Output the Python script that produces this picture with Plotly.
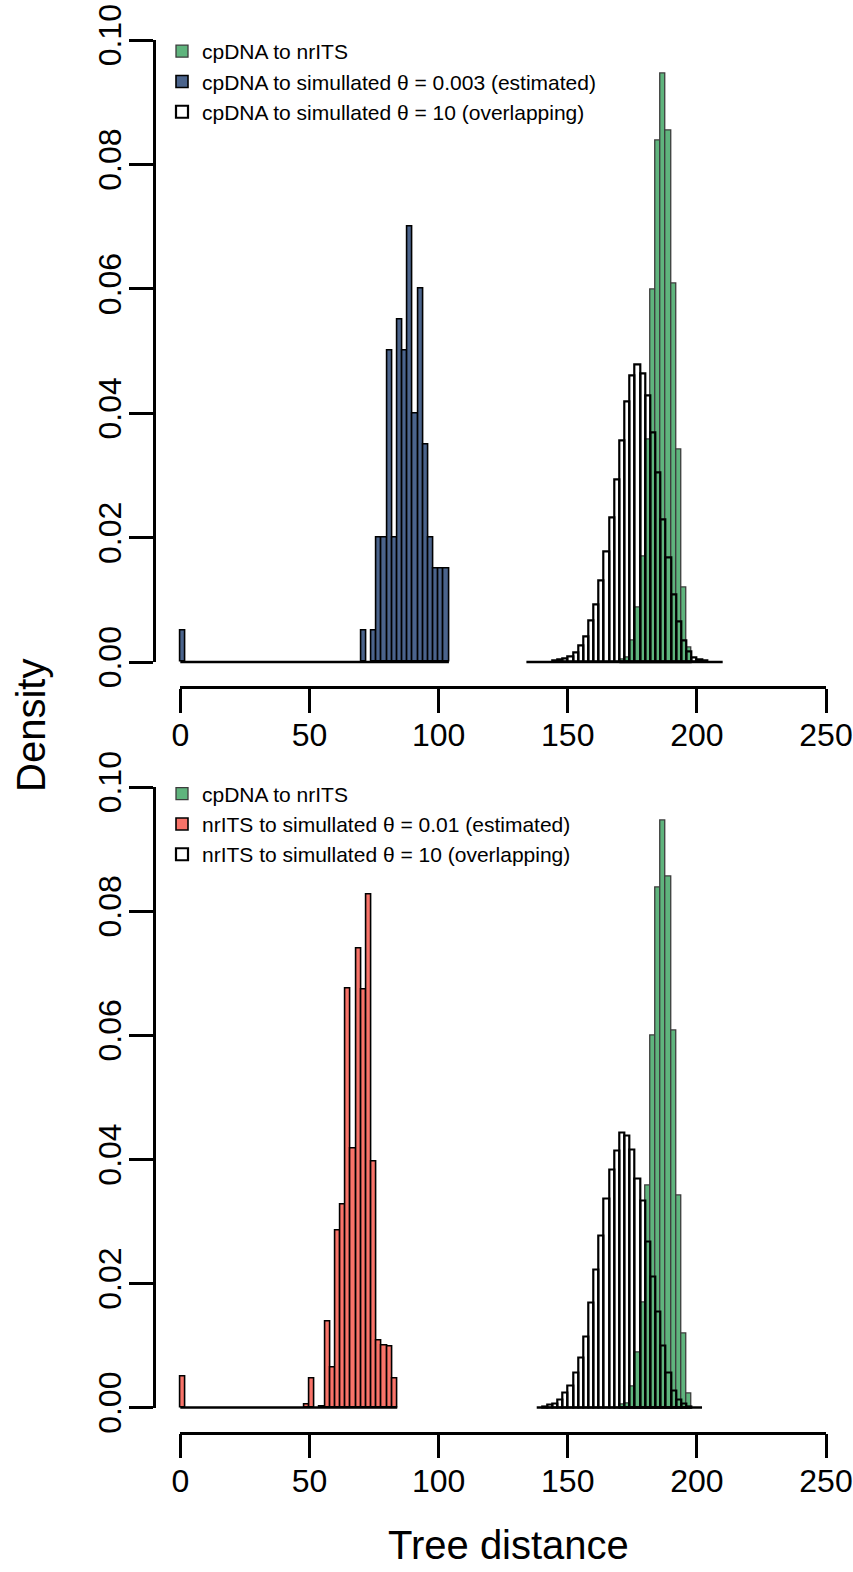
import plotly.graph_objects as go

# ---------------- data (densities, bin width 2) ----------------
BIN = 2

green_left = [170, 172, 174, 176, 178, 180, 182, 184, 186, 188, 190, 192, 194, 196]
green_density = [0.0004, 0.0007, 0.0034, 0.0088, 0.0169, 0.0358, 0.0599, 0.0838,
                 0.0946, 0.0855, 0.0608, 0.0342, 0.0119, 0.0023]
green_range = [170, 198]

blue_left = [0, 70, 74, 76, 78, 80, 82, 84, 86, 88, 90, 92, 94, 96, 98, 100, 102]
blue_density = [0.005, 0.005, 0.005, 0.02, 0.02, 0.05, 0.02, 0.055, 0.05, 0.07,
                0.04, 0.06, 0.035, 0.02, 0.015, 0.015, 0.015]
blue_range = [0, 104]

white1_left = [144, 146, 148, 150, 152, 154, 156, 158, 160, 162, 164, 166, 168, 170, 172,
               174, 176, 178, 180, 182, 184, 186, 188, 190, 192, 194, 196, 198, 200, 202]
white1_density = [0.0003, 0.0004, 0.0006, 0.0009, 0.0015, 0.0026, 0.0041, 0.0066, 0.0092,
                  0.0131, 0.0178, 0.0232, 0.0294, 0.0356, 0.0419, 0.0460, 0.0479, 0.0463,
                  0.0428, 0.0369, 0.0305, 0.0229, 0.0168, 0.0108, 0.0065, 0.0034, 0.0017,
                  0.0007, 0.0004, 0.0002]
white1_range = [134, 210]

red_left = [0, 48, 50, 54, 56, 58, 60, 62, 64, 66, 68, 70, 72, 74, 76, 78, 80, 82]
red_density = [0.005, 0.0004, 0.0047, 0.0002, 0.0138, 0.0065, 0.0285, 0.0327, 0.0675,
               0.0417, 0.0739, 0.0674, 0.0826, 0.0397, 0.0108, 0.0100, 0.0098, 0.0047]
red_range = [0, 84]

white2_left = [140, 142, 144, 146, 148, 150, 152, 154, 156, 158, 160, 162, 164, 166, 168,
               170, 172, 174, 176, 178, 180, 182, 184, 186, 188, 190, 192, 194, 196]
white2_density = [0.0001, 0.0004, 0.0007, 0.0013, 0.0024, 0.0035, 0.0056, 0.0081, 0.0115,
                  0.0169, 0.0222, 0.0277, 0.0336, 0.0384, 0.0414, 0.0443, 0.0438, 0.0416,
                  0.0369, 0.0334, 0.0267, 0.0211, 0.0154, 0.0100, 0.0056, 0.0027, 0.0012,
                  0.0007, 0.0002]
white2_range = [138, 202]

x_ticks = [0, 50, 100, 150, 200, 250]
y_ticks = [0.00, 0.02, 0.04, 0.06, 0.08, 0.10]

legend_top = ["cpDNA to nrITS",
              "cpDNA to simullated θ = 0.003 (estimated)",
              "cpDNA to simullated θ = 10 (overlapping)"]
legend_bottom = ["cpDNA to nrITS",
                 "nrITS to simullated θ = 0.01 (estimated)",
                 "nrITS to simullated θ = 10 (overlapping)"]

# ---------------- styles ----------------
GREEN = "#5FB47D"
BLUE = "#4B648C"
RED = "#F87369"
FONT = "Liberation Sans, Arial, Helvetica, sans-serif"

OFF = 0                      # page body margin is removed below (post_script)
W, H = 853, 1572
X0_PX, X250_PX = 180.3, 826.0          # window px of x=0 and x=250
PPU_X = (X250_PX - X0_PX) / 250.0
PANELS = {"top": (662.0, 40.0), "bottom": (1407.5, 787.0)}  # window px of y=0 and y=0.1
Y_AXIS_PX = 153.5
X_AXIS_PX = {"top": 687.0, "bottom": 1432.5}


def fx(p):
    return (p - OFF) / W


def fy(p):
    return 1 - (p - OFF) / H


def centers(lefts):
    return [l + BIN / 2 for l in lefts]


fig = go.Figure()


def add_panel(xa, ya, legend, hists, names):
    for (lefts, dens, rng, fill, lcol, lw), name in zip(hists, names):
        fig.add_trace(go.Bar(
            x=centers(lefts), y=dens, width=BIN, name=name,
            marker=dict(color=fill, line=dict(color=lcol, width=lw)),
            xaxis=xa, yaxis=ya, legend=legend, hoverinfo="skip"))
    for (lefts, dens, rng, fill, lcol, lw) in hists:
        fig.add_trace(go.Scatter(
            x=rng, y=[0, 0], mode="lines", line=dict(color="black", width=2.4),
            xaxis=xa, yaxis=ya, showlegend=False, hoverinfo="skip"))


top_hists = [
    (green_left, green_density, green_range, GREEN, "#3c3c3c", 1.3),
    (blue_left, blue_density, blue_range, BLUE, "black", 1.6),
    (white1_left, white1_density, white1_range, "rgba(255,255,255,0)", "black", 2.2),
]
bottom_hists = [
    (green_left, green_density, green_range, GREEN, "#3c3c3c", 1.3),
    (red_left, red_density, red_range, RED, "black", 1.6),
    (white2_left, white2_density, white2_range, "rgba(255,255,255,0)", "black", 2.2),
]
add_panel("x", "y", "legend", top_hists, legend_top)
add_panel("x2", "y2", "legend2", bottom_hists, legend_bottom)

# dummy traces to create the axis-only subplots
fig.add_trace(go.Scatter(x=[None], y=[None], xaxis="x3", yaxis="y3", showlegend=False))
fig.add_trace(go.Scatter(x=[None], y=[None], xaxis="x4", yaxis="y4", showlegend=False))

XPAD = 5
YPAD = 0.002


def data_axes(y0px, y10px):
    ppu_y = (y0px - y10px) / 0.1
    xa = dict(domain=[fx(X0_PX - XPAD * PPU_X), fx(X250_PX + XPAD * PPU_X)],
              range=[-XPAD, 250 + XPAD], visible=False, fixedrange=True, automargin=False)
    ya = dict(domain=[fy(y0px + YPAD * ppu_y), fy(y10px - YPAD * ppu_y)],
              range=[-YPAD, 0.1 + YPAD], visible=False, fixedrange=True, automargin=False)
    return xa, ya


def axis_only(y0px, y10px, xaxis_px):
    tickfont = dict(family=FONT, size=32, color="black")
    xa = dict(domain=[fx(X0_PX), fx(X250_PX)], range=[0, 250], anchor="free",
              position=fy(xaxis_px), side="bottom", showgrid=False, zeroline=False,
              showline=True, linecolor="black", linewidth=2.5, ticks="outside",
              ticklen=24, tickwidth=2.5, tickcolor="black", tickvals=x_ticks,
              tickfont=tickfont, ticklabelstandoff=-5, ticklabeloverflow="allow",
              fixedrange=True, automargin=False)
    ya = dict(domain=[fy(y0px), fy(y10px)], range=[0, 0.1], anchor="free",
              position=fx(Y_AXIS_PX), side="left", showgrid=False, zeroline=False,
              showline=True, linecolor="black", linewidth=2.5, ticks="outside",
              ticklen=24, tickwidth=2.5, tickcolor="black", tickvals=y_ticks,
              tickformat=".2f", tickangle=-90, tickfont=tickfont, ticklabelstandoff=-5,
              ticklabeloverflow="allow", fixedrange=True, automargin=False)
    return xa, ya


xa1, ya1 = data_axes(*PANELS["top"])
xa2, ya2 = data_axes(*PANELS["bottom"])
xa3, ya3 = axis_only(*PANELS["top"], X_AXIS_PX["top"])
xa4, ya4 = axis_only(*PANELS["bottom"], X_AXIS_PX["bottom"])
xa1["anchor"] = "y"
ya1["anchor"] = "x"
xa2["anchor"] = "y2"
ya2["anchor"] = "x2"

legend_common = dict(font=dict(family=FONT, size=21, color="black"),
                     bgcolor="rgba(0,0,0,0)", xanchor="left", yanchor="top",
                     traceorder="normal", itemclick=False, itemdoubleclick=False)

fig.update_layout(
    template="none",
    width=W, height=H, autosize=False,
    margin=dict(l=0, r=0, t=0, b=0, pad=0, autoexpand=False),
    paper_bgcolor="white", plot_bgcolor="rgba(0,0,0,0)",
    barmode="overlay", bargap=0,
    font=dict(family=FONT, color="black"),
    xaxis=xa1, yaxis=ya1, xaxis2=xa2, yaxis2=ya2,
    xaxis3=xa3, yaxis3=ya3, xaxis4=xa4, yaxis4=ya4,
    legend=dict(x=fx(162), y=fy(31), **legend_common),
    legend2=dict(x=fx(162), y=fy(773.5), **legend_common),
    annotations=[
        dict(text="Density", x=fx(31), y=fy(726), xref="paper", yref="paper",
             textangle=-90, showarrow=False, xanchor="center", yanchor="middle",
             font=dict(family=FONT, size=40, color="black")),
        dict(text="Tree distance", x=fx(508), y=fy(1545), xref="paper", yref="paper",
             showarrow=False, xanchor="center", yanchor="middle",
             font=dict(family=FONT, size=40, color="black")),
    ],
    showlegend=True,
)

fig.write_html(
    "out.html",
    config={"displayModeBar": False},
    post_script="document.body.style.margin='0';document.body.style.overflow='hidden';",
)
